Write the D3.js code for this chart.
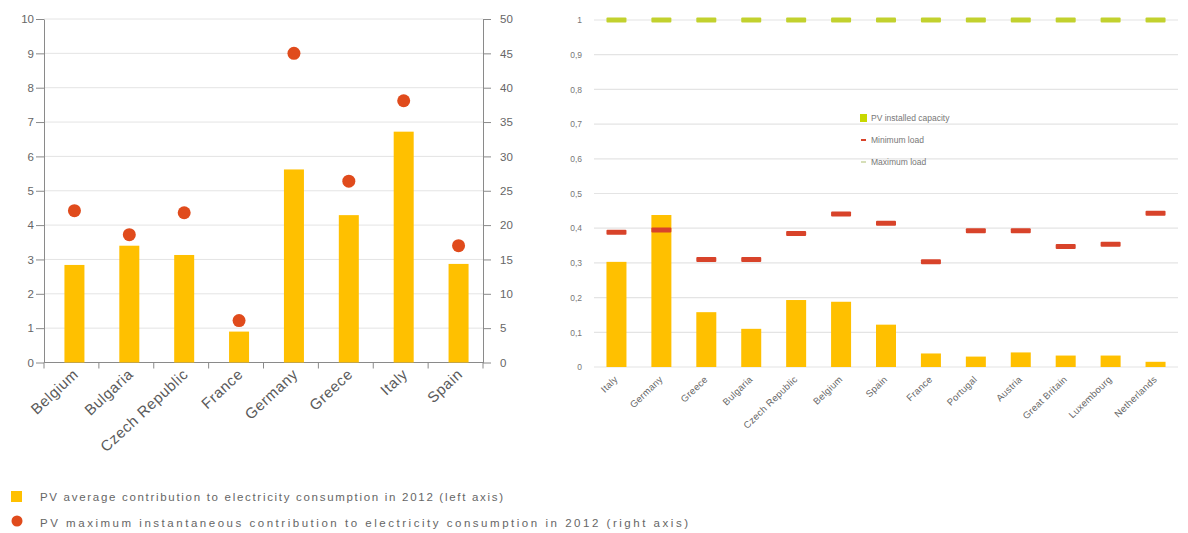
<!DOCTYPE html>
<html>
<head>
<meta charset="utf-8">
<script src="https://cdn.jsdelivr.net/npm/d3@7"></script>
<style>
  html, body { margin: 0; padding: 0; background: #fff; }
  svg { display: block; font-family: "Liberation Sans", Arial, sans-serif; }
</style>
</head>
<body>
<svg id="chart" width="1188" height="533"></svg>
<script>
// ---- Left panel: PV contribution to electricity consumption, 2012 ----
const countriesA = ["Belgium", "Bulgaria", "Czech Republic", "France", "Germany", "Greece", "Italy", "Spain"];
const avgContribution = [2.84, 3.40, 3.13, 0.90, 5.62, 4.29, 6.72, 2.87];      // %, left axis
const maxContribution = [22.1, 18.6, 21.8, 6.1, 45.0, 26.4, 38.1, 17.0];       // %, right axis
const leftTicks = [0, 1, 2, 3, 4, 5, 6, 7, 8, 9, 10];
const rightTicks = [0, 5, 10, 15, 20, 25, 30, 35, 40, 45, 50];

// ---- Right panel: PV installed capacity vs load (normalised) ----
const countriesB = ["Italy", "Germany", "Greece", "Bulgaria", "Czech Republic", "Belgium", "Spain",
                    "France", "Portugal", "Austria", "Great Britain", "Luxembourg", "Netherlands"];
const pvCapacity = [0.303, 0.438, 0.158, 0.110, 0.193, 0.188, 0.122, 0.039, 0.030, 0.042, 0.033, 0.033, 0.015];
const minLoad = [0.388, 0.395, 0.310, 0.310, 0.385, 0.441, 0.414, 0.303, 0.393, 0.393, 0.347, 0.354, 0.443];
const maxLoad = [1, 1, 1, 1, 1, 1, 1, 1, 1, 1, 1, 1, 1];
const ticksB = [0, 0.1, 0.2, 0.3, 0.4, 0.5, 0.6, 0.7, 0.8, 0.9, 1];

const legendBottom = [
  "PV average contribution to electricity consumption in 2012 (left axis)",
  "PV maximum instantaneous contribution to electricity consumption in 2012 (right axis)"
];
const legendRight = ["PV installed capacity", "Minimum load", "Maximum load"];

const BAR = "#FFC000", DOT = "#E04B1C", MINC = "#D8432A", MAXC = "#C2D12E";
const GRID = "#e4e4e4", AXIS = "#8a8a8a", TXT = "#666";

const svg = d3.select("#chart");

// ================= LEFT PANEL =================
{
  const L = 44, R = 483, T = 19, B = 362.5;
  const x = d3.scaleBand().domain(countriesA).range([L, R]).padding(0);
  const yL = d3.scaleLinear().domain([0, 10]).range([B, T]);
  const yR = d3.scaleLinear().domain([0, 50]).range([B, T]);
  const g = svg.append("g");

  // gridlines
  g.append("g").selectAll("line").data(leftTicks).join("line")
    .attr("x1", L).attr("x2", R)
    .attr("y1", d => yL(d)).attr("y2", d => yL(d))
    .attr("stroke", GRID).attr("stroke-width", 1);

  // axes
  const axL = g.append("g").attr("transform", `translate(${L},0)`)
    .call(d3.axisLeft(yL).tickValues(leftTicks).tickSize(8).tickPadding(2).tickSizeOuter(0));
  const axR = g.append("g").attr("transform", `translate(${R},0)`)
    .call(d3.axisRight(yR).tickValues(rightTicks).tickSize(8).tickPadding(9).tickSizeOuter(0));
  [axL, axR].forEach(a => {
    a.selectAll("path, line").attr("stroke", AXIS);
    a.selectAll("text").attr("fill", TXT).attr("font-size", 11.5);
  });

  // bottom axis with ticks at band edges
  const edges = countriesA.map(c => x(c)).concat([R]);
  g.append("line").attr("x1", L).attr("x2", R).attr("y1", B).attr("y2", B).attr("stroke", AXIS);
  g.append("g").selectAll("line").data(edges).join("line")
    .attr("x1", d => d).attr("x2", d => d).attr("y1", B).attr("y2", B + 6).attr("stroke", AXIS);

  // bars
  const bw = 20, off = 3;
  g.append("g").selectAll("rect").data(countriesA).join("rect")
    .attr("x", c => x(c) + x.bandwidth() / 2 + off - bw / 2)
    .attr("width", bw)
    .attr("y", (c, i) => yL(avgContribution[i]))
    .attr("height", (c, i) => yL(0) - yL(avgContribution[i]))
    .attr("fill", BAR);

  // dots (right axis)
  g.append("g").selectAll("circle").data(countriesA).join("circle")
    .attr("cx", c => x(c) + x.bandwidth() / 2 + off)
    .attr("cy", (c, i) => yR(maxContribution[i]))
    .attr("r", 6.5)
    .attr("fill", DOT);

  // rotated category labels
  g.append("g").selectAll("text").data(countriesA).join("text")
    .attr("transform", c => `translate(${x(c) + x.bandwidth() / 2 + off + 5},${B + 13}) rotate(-43)`)
    .attr("text-anchor", "end")
    .attr("font-size", 15)
    .attr("letter-spacing", 0.6)
    .attr("fill", "#5a5a5a")
    .text(c => c);

  // legend at the bottom
  const lg = svg.append("g");
  lg.append("rect").attr("x", 11).attr("y", 491).attr("width", 11).attr("height", 11).attr("fill", BAR);
  lg.append("circle").attr("cx", 17).attr("cy", 521).attr("r", 5.5).attr("fill", DOT);
  const legendLen = [463, 648];
  lg.selectAll("text").data(legendBottom).join("text")
    .attr("x", 40).attr("y", (d, i) => 501 + i * 26)
    .attr("font-size", 11.5)
    .attr("fill", TXT)
    .attr("textLength", (d, i) => legendLen[i])
    .attr("lengthAdjust", "spacing")
    .text(d => d);
}

// ================= RIGHT PANEL =================
{
  const L = 594, R = 1178, T = 20, B = 367;
  const x = d3.scaleBand().domain(countriesB).range([L, R]).padding(0);
  const y = d3.scaleLinear().domain([0, 1]).range([B, T]);
  const g = svg.append("g");
  const fmt = d => d3.format("~g")(d).replace(".", ",");

  g.append("g").selectAll("line").data(ticksB).join("line")
    .attr("x1", L).attr("x2", R)
    .attr("y1", d => y(d)).attr("y2", d => y(d))
    .attr("stroke", GRID).attr("stroke-width", 1.2);

  const ax = g.append("g").attr("transform", `translate(${L},0)`)
    .call(d3.axisLeft(y).tickValues(ticksB).tickFormat(fmt).tickSize(0).tickPadding(12));
  ax.select(".domain").remove();
  ax.selectAll("text").attr("fill", "#777").attr("font-size", 8.5);

  const cx = c => x(c) + x.bandwidth() / 2;
  const bw = 20;

  g.append("g").selectAll("rect").data(countriesB).join("rect")
    .attr("x", c => cx(c) - bw / 2)
    .attr("width", bw)
    .attr("y", (c, i) => y(pvCapacity[i]))
    .attr("height", (c, i) => y(0) - y(pvCapacity[i]))
    .attr("fill", BAR);

  g.append("g").selectAll("rect").data(countriesB).join("rect")
    .attr("x", c => cx(c) - 10)
    .attr("width", 20)
    .attr("y", (c, i) => y(minLoad[i]) - 2.5)
    .attr("height", 5)
    .attr("rx", 1)
    .attr("fill", MINC);

  g.append("g").selectAll("rect").data(countriesB).join("rect")
    .attr("x", c => cx(c) - 10)
    .attr("width", 20)
    .attr("y", (c, i) => y(maxLoad[i]) - 2.5)
    .attr("height", 5)
    .attr("rx", 1)
    .attr("fill", MAXC);

  g.append("g").selectAll("text").data(countriesB).join("text")
    .attr("transform", c => `translate(${cx(c) + 2},${B + 13}) rotate(-44)`)
    .attr("text-anchor", "end")
    .attr("font-size", 9.5)
    .attr("letter-spacing", 0.3)
    .attr("fill", "#666")
    .text(c => c);

  // inline legend
  const lg = g.append("g").attr("transform", "translate(860,118)");
  const sw = [
    { kind: "sq", color: "#C8D800" },
    { kind: "dash", color: MINC },
    { kind: "dash", color: "#d6dfb8" }
  ];
  lg.selectAll("g").data(legendRight).join("g")
    .attr("transform", (d, i) => `translate(0,${i * 22})`)
    .each(function (d, i) {
      const s = d3.select(this);
      if (sw[i].kind === "sq") {
        s.append("rect").attr("x", 0).attr("y", -4).attr("width", 7).attr("height", 8).attr("fill", sw[i].color);
      } else {
        s.append("rect").attr("x", 1).attr("y", -1).attr("width", 5).attr("height", 2).attr("fill", sw[i].color);
      }
      s.append("text").attr("x", 11).attr("y", 3).attr("font-size", 8.5).attr("fill", "#777").text(d);
    });
}
</script>
</body>
</html>
